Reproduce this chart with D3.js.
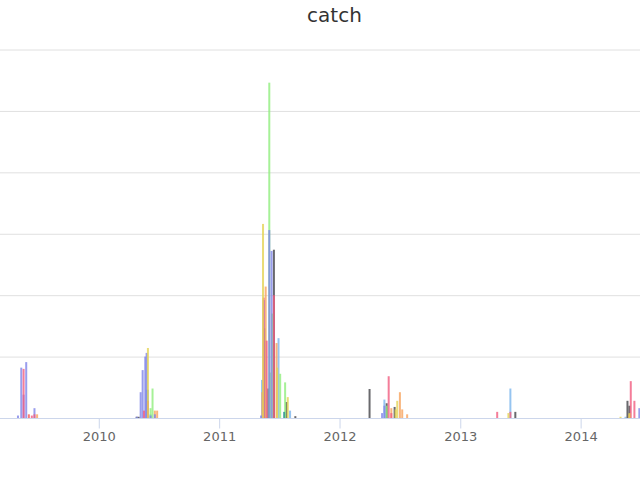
<!DOCTYPE html>
<html>
<head>
<meta charset="utf-8">
<script src="https://cdn.jsdelivr.net/npm/d3@7"></script>
<style>
  html, body { margin: 0; padding: 0; background: #fff; }
  svg { display: block; }
</style>
</head>
<body>
<svg id="chart" width="640" height="480"></svg>
<script>
// ---- Data ----
const chartTitle = "catch";
const seriesNames = ["Series 1","Series 2","Series 3","Series 4","Series 5","Series 6","Series 7","Series 8","Series 9","Series 10"];
const seriesColors = ["#7cb5ec","#434348","#90ed7d","#f7a35c","#8085e9","#f15c80","#e4d354","#2b908f","#f45b5b","#91e8e1"];
const yTicks = [0, 50, 100, 150, 200, 250, 300];
const xTickYears = ["2010","2011","2012","2013","2014"];

const series1 = [ // light blue
  ["2010-05-26",23],["2010-05-30",23],["2010-06-07",3],
  ["2011-05-11",31],["2011-06-30",65],["2011-08-04",6],
  ["2012-05-16",15],["2013-06-02",24],["2014-05-17",1]
];
const series2 = [ // dark
  ["2010-04-26",1],["2010-05-02",1],
  ["2011-05-30",24],["2011-06-16",137],["2011-07-24",13],["2011-08-20",1.5],
  ["2012-04-01",23.6],["2012-05-23",12],["2012-06-16",9],
  ["2013-06-17",5],["2014-05-23",14],["2014-05-29",10]
];
const series3 = [ // green
  ["2010-06-07",8],["2010-06-13",24],
  ["2011-05-19",73],["2011-06-02",273],["2011-06-04",37],["2011-06-11",85],["2011-07-05",36],["2011-07-20",29],
  ["2012-05-23",10]
];
const series4 = [ // orange
  ["2009-06-28",3],["2010-06-20",6],["2010-06-27",6],
  ["2011-05-12",21],["2011-05-22",107],["2011-06-24",61],
  ["2012-06-06",8],["2012-07-02",21],["2012-07-09",7],["2012-07-24",3],
  ["2014-05-29",3]
];
const series5 = [ // purple
  ["2009-05-01",2],["2009-05-11",41],["2009-05-18",19],["2009-05-26",45.5],["2009-06-20",8],
  ["2010-04-26",1],["2010-05-08",21],["2010-05-14",39],["2010-05-22",50],["2010-05-26",53],["2010-06-07",2],["2010-06-20",3],
  ["2011-05-08",2],["2011-05-16",96],["2011-06-02",153],["2011-06-09",136],
  ["2012-05-09",4],["2012-05-16",10],["2014-06-28",8]
];
const series6 = [ // pink
  ["2009-05-18",40],["2009-06-12",2],["2009-06-20",3],
  ["2010-05-18",6],["2010-05-30",14],
  ["2011-05-16",98],["2011-05-25",63],["2011-06-16",100],
  ["2012-05-29",34],["2012-06-06",4],
  ["2013-04-23",5],["2013-06-02",5],["2014-06-02",30],["2014-06-13",14]
];
const series7 = [ // yellow
  ["2010-05-30",57],
  ["2011-05-14",158],["2011-06-26",41],["2011-07-28",17],
  ["2012-06-19",7],["2012-06-24",14],["2013-05-27",4],["2014-05-02",1],["2014-05-29",4]
];
const series8 = [ // teal
  ["2011-07-17",5]
];
const series9 = [ // red
  ["2009-06-03",3]
];
const series10 = [];

const allSeries = [series1,series2,series3,series4,series5,series6,series7,series8,series9,series10];

// ---- Layout ----
const plotLeft = 0, plotRight = 640, plotTop = 49.5, plotBottom = 418;
const svg = d3.select("#chart");
const parse = d3.utcParse("%Y-%m-%d");

const x = d3.scaleUtc()
  .domain([new Date(Date.UTC(2009,2,7,12)), new Date(Date.UTC(2014,5,30))])
  .range([plotLeft, plotRight]);
const y = d3.scaleLinear().domain([0, 300]).range([plotBottom, plotTop]);

// grid lines
const gy = svg.append("g").attr("transform", `translate(${plotRight},0)`)
  .call(d3.axisRight(y).tickValues(yTicks.slice(1)).tickSize(-(plotRight - plotLeft)).tickFormat(""));
gy.select(".domain").remove();
gy.selectAll(".tick line").attr("stroke", "#e0e0e0").attr("stroke-width", 1);

// bars
const barW = 2;
allSeries.forEach((s, i) => {
  svg.append("g").attr("fill", seriesColors[i]).attr("fill-opacity", 0.8)
    .selectAll("rect").data(s).join("rect")
    .attr("x", d => x(parse(d[0])) - barW / 2)
    .attr("width", barW)
    .attr("y", d => y(d[1]))
    .attr("height", d => y(0) - y(d[1]));
});

// x axis
const xTickDates = xTickYears.map(t => parse(t + "-01-01"));
const gx = svg.append("g").attr("transform", `translate(0,${plotBottom + 0.5})`)
  .call(d3.axisBottom(x).tickValues(xTickDates).tickSize(10).tickPadding(3).tickFormat(d3.utcFormat("%Y")));
gx.select(".domain").attr("stroke", "#ccd6eb").attr("d", `M${plotLeft},0H${plotRight}`);
gx.selectAll(".tick line").attr("stroke", "#ccd6eb");
gx.selectAll(".tick text").attr("fill", "#666666")
  .style("font-family", "'DejaVu Sans', sans-serif").style("font-size", "13px");

// title
svg.append("text").attr("x", 334.5).attr("y", 22).attr("text-anchor", "middle")
  .attr("fill", "#333333").style("font-family", "'DejaVu Sans', sans-serif").style("font-size", "20px")
  .text(chartTitle);
</script>
</body>
</html>
